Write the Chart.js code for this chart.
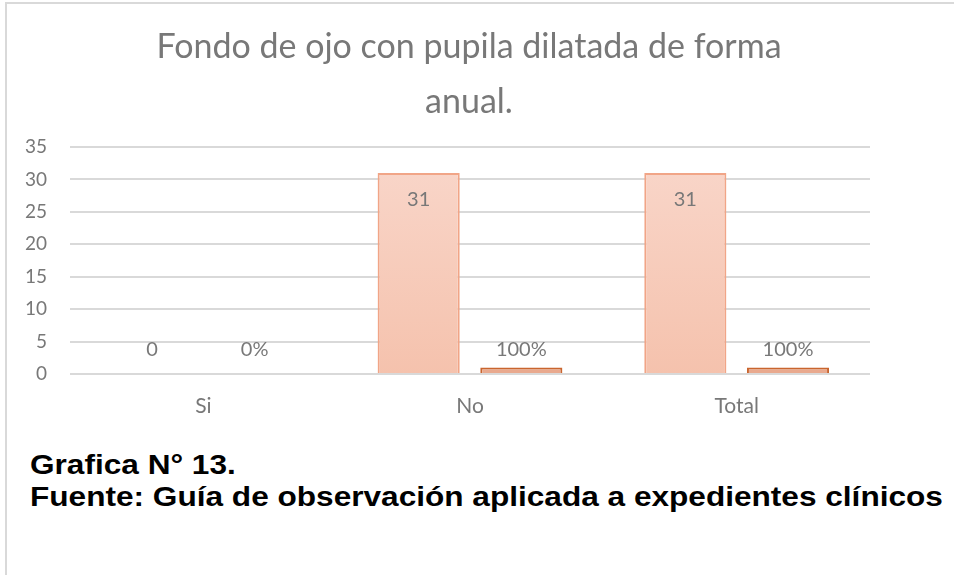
<!DOCTYPE html>
<html>
<head>
<meta charset="utf-8">
<script src="https://cdn.jsdelivr.net/npm/chart.js@4"></script>
<style>
  html, body { margin: 0; padding: 0; background: #fff; }
  #frame {
    position: absolute; left: 5px; top: 2px; width: 960px; height: 580px;
    border-left: 2px solid #d9d9d9; border-top: 2px solid #d9d9d9;
  }
  #chart { position: absolute; left: 0; top: 0; }
  #title {
    position: absolute; left: 0; top: 17px; width: 938px; margin: 0;
    text-align: center; font-family: Lato, "Open Sans", sans-serif;
    font-size: 34px; line-height: 55px; color: #787878;
  }
  .caption {
    position: absolute; left: 30px; margin: 0;
    font-family: "Liberation Sans", Arial, sans-serif; font-weight: bold;
    font-size: 27px; line-height: 32px; color: #000; white-space: nowrap;
    transform: scaleX(1.17); transform-origin: left center;
  }
</style>
</head>
<body>
<div id="frame"></div>
<canvas id="chart" width="954" height="440"></canvas>
<p id="title"></p>
<p class="caption" style="top:449px">Grafica N° 13.</p>
<p class="caption" style="top:481px">Fuente: Guía de observación aplicada a expedientes clínicos</p>
<script>
const titleLines = ['Fondo de ojo con pupila dilatada de forma', 'anual.'];
const categories = ['Si', 'No', 'Total'];
const counts = [0, 31, 31];
const percents = [0, 100, 100];
const yTicks = [0, 5, 10, 15, 20, 25, 30, 35];

const textGrey = '#787878';
const chartFont = 'Lato, "Open Sans", sans-serif';

document.getElementById('title').innerHTML = titleLines.join('<br>');

function countFill(context) {
  const area = context.chart.chartArea;
  if (!area) return '#f7cbb9';
  const g = context.chart.ctx.createLinearGradient(0, area.top, 0, area.bottom);
  g.addColorStop(0, '#f9d7cb');
  g.addColorStop(1, '#f5c2ad');
  return g;
}

// data labels: counts sit inside the top of the bar, percents above it
const barLabels = {
  id: 'barLabels',
  afterDatasetsDraw(chart) {
    const ctx = chart.ctx;
    ctx.save();
    ctx.font = '20px ' + chartFont;
    ctx.fillStyle = textGrey;
    ctx.textAlign = 'center';
    ctx.textBaseline = 'middle';
    chart.getDatasetMeta(0).data.forEach((bar, i) => {
      const y = counts[i] > 0 ? bar.y + 27 : bar.y - 24;
      ctx.fillText(String(counts[i]), bar.x, y);
    });
    chart.getDatasetMeta(1).data.forEach((bar, i) => {
      const y = percents[i] > 0 ? bar.y - 18 : bar.y - 24;
      ctx.fillText(percents[i] + '%', bar.x, y);
    });
    ctx.restore();
  }
};

new Chart(document.getElementById('chart'), {
  type: 'bar',
  data: {
    labels: categories,
    datasets: [
      {
        label: 'Cantidad',
        data: counts,
        backgroundColor: countFill,
        borderColor: '#f1a587',
        borderWidth: 2,
        borderSkipped: 'bottom',
        categoryPercentage: 0.77,
        barPercentage: 0.8
      },
      {
        label: 'Porcentaje',
        data: percents.map((p) => p / 100),
        backgroundColor: '#e9a98e',
        borderColor: '#c9652e',
        borderWidth: 2,
        borderSkipped: 'bottom',
        categoryPercentage: 0.77,
        barPercentage: 0.8
      }
    ]
  },
  options: {
    responsive: false,
    animation: false,
    layout: { padding: { left: 0, right: 84, top: 147, bottom: 16 } },
    plugins: {
      legend: { display: false },
      tooltip: { enabled: false },
      title: { display: false }
    },
    scales: {
      x: {
        grid: { display: false },
        border: { display: false },
        ticks: { color: textGrey, font: { family: chartFont, size: 21 }, padding: 12 },
        afterFit(scale) { scale.height = 50; }
      },
      y: {
        min: 0,
        max: 35,
        afterBuildTicks(scale) { scale.ticks = yTicks.map((v) => ({ value: v })); },
        grid: { color: '#d9d9d9', lineWidth: 2, drawTicks: false },
        border: { display: false },
        ticks: { color: textGrey, font: { family: chartFont, size: 19 }, padding: 23 },
        afterFit(scale) { scale.width = 70; }
      }
    }
  },
  plugins: [barLabels]
});
</script>
</body>
</html>
